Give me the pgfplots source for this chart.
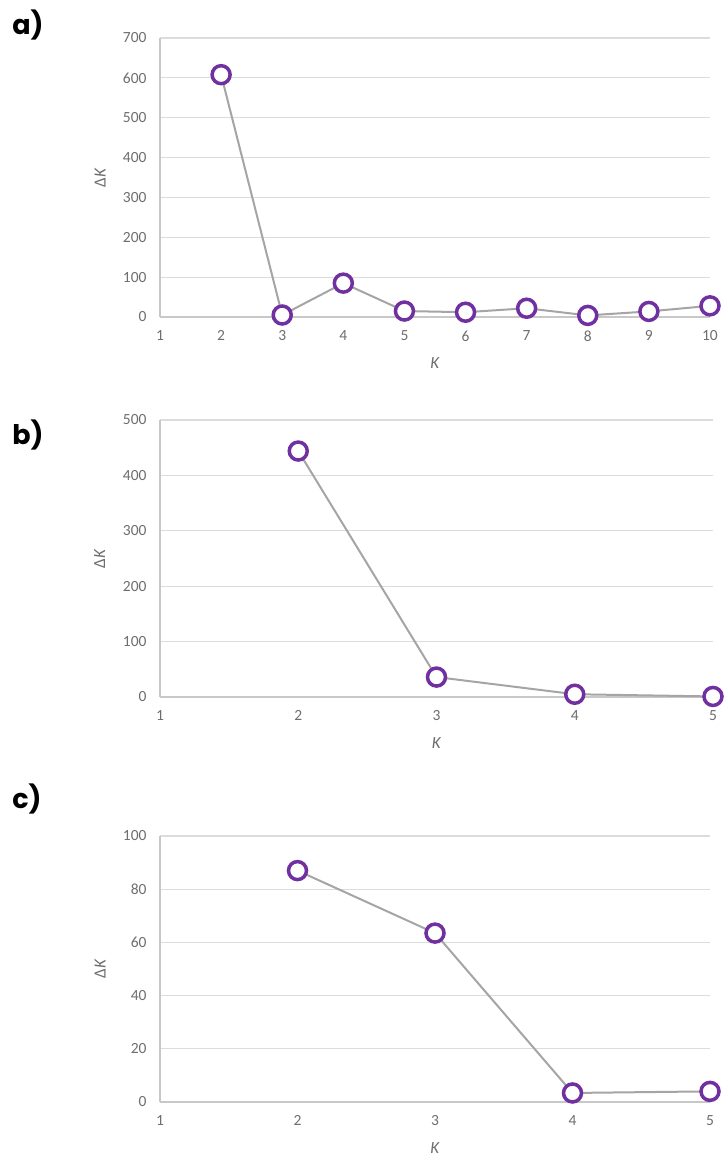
\documentclass[border=0pt]{standalone}
\usepackage{fontspec}
\setmainfont{Carlito}
\newfontfamily\labfont{Poppins}
\usepackage{pgfplots}
\pgfplotsset{compat=1.18}
\definecolor{purp}{HTML}{7030A0}
\definecolor{linegray}{HTML}{A5A5A5}
\definecolor{gridgray}{HTML}{DCDCDC}
\definecolor{axisgray}{HTML}{C8C8C8}
\definecolor{tickgray}{HTML}{6E6E6E}
\pgfplotsset{excel/.style={
  scale only axis, clip=false,
  axis x line=bottom, axis y line=left,
  axis line style={draw=axisgray, line width=1.2pt, -},
  ymajorgrids, grid style={draw=gridgray, line width=1.2pt},
  major tick length=0pt, tick style={draw=none},
  /pgf/number format/assume math mode=true,
  ticklabel style={font=\fontsize{15.5}{18}\selectfont, text=tickgray},
  yticklabel style={xshift=-10pt},
  xticklabel style={yshift=-10pt},
  xtick distance=1,
  xlabel={\textit{K}}, ylabel={Δ\textit{K}},
  every axis x label/.style={at={(axis description cs:0.5,0)}, anchor=center, yshift=-46pt,
     font=\fontsize{17}{20}\selectfont, text=tickgray},
  every axis y label/.style={at={(axis description cs:-0.109,0.5)}, anchor=center, rotate=90,
     font=\fontsize{17}{20}\selectfont, text=tickgray},
  ymin=0,
}}
\pgfplotsset{ser/.style={draw=linegray, line width=2pt, mark=*, mark size=9pt,
  mark options={draw=purp, fill=white, line width=3.5pt}}}
\begin{document}
\begin{tikzpicture}
\useasboundingbox (0,0) rectangle (726pt,-1157pt);
\fill[white] (0,0) rectangle (726pt,-1157pt);
\node[font=\labfont\bfseries\fontsize{27}{30}\selectfont, anchor=center] at (28pt,-25pt) {a)};
\node[font=\labfont\bfseries\fontsize{27}{30}\selectfont, anchor=center] at (28pt,-435pt) {b)};
\node[font=\labfont\bfseries\fontsize{27}{30}\selectfont, anchor=center] at (27pt,-799pt) {c)};
\begin{axis}[excel, at={(160pt,-317pt)}, anchor=south west, width=550pt, height=279pt,
  xmin=1, xmax=10, ymax=700, ytick={0,100,...,700}]
\addplot[ser] coordinates {(2,608) (3,5) (4,85) (5,15) (6,12) (7,22) (8,4) (9,14) (10,28)};
\end{axis}
\begin{axis}[excel, at={(160pt,-697pt)}, anchor=south west, width=553pt, height=277pt,
  xmin=1, xmax=5, ymax=500, ytick={0,100,...,500}]
\addplot[ser] coordinates {(2,444) (3,36) (4,5) (5,1)};
\end{axis}
\begin{axis}[excel, at={(160pt,-1102pt)}, anchor=south west, width=550pt, height=266pt,
  xmin=1, xmax=5, ymax=100, ytick={0,20,...,100}]
\addplot[ser] coordinates {(2,87) (3,63.5) (4,3.4) (5,4)};
\end{axis}
\end{tikzpicture}
\end{document}
